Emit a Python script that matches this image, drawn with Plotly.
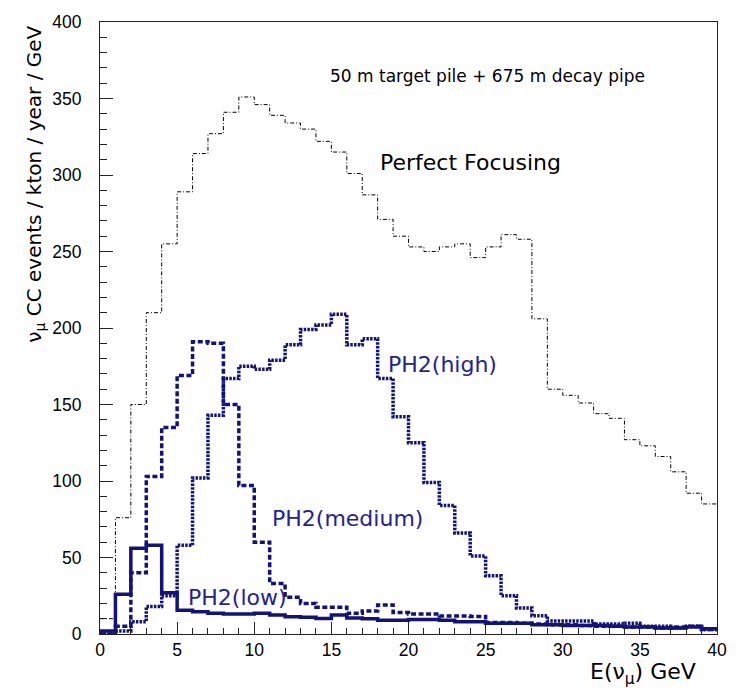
import plotly.graph_objects as go

# Bin edges (GeV), 1 GeV bins from 0 to 40
bin_edges = list(range(0, 41))

# nu_mu CC events / kton / year / GeV per bin
perfect_focusing = [10, 76, 150, 210, 255, 289, 314, 327, 341, 351,
                    346, 339, 334, 330, 322, 315, 301, 287, 271, 260,
                    253, 250, 253, 255, 246, 253, 261, 258, 206, 160,
                    156, 151, 144, 141, 127, 123, 116, 106, 92, 85]
ph2_high = [0, 2, 8, 18, 25, 58, 102, 143, 167, 175,
            173, 179, 189, 199, 202, 209, 189, 193, 167, 142,
            125, 99, 84, 66, 51, 38, 25, 17, 12, 8.5,
            8.5, 8.5, 6.5, 6.5, 7, 5, 5, 4, 5, 3]
ph2_medium = [0, 5, 40, 103, 135, 169, 191, 190, 150, 97,
              60, 33, 24, 20, 17.5, 17.5, 13.5, 15, 19, 14,
              13, 13, 11.7, 11.7, 11.5, 7.5, 7.5, 7, 6.5, 6,
              6, 5.5, 5, 5, 4.5, 4.5, 4, 4.5, 5, 3]
ph2_low = [2, 26, 56, 58, 27, 15.5, 14.5, 13.5, 13, 13,
           13.5, 12.5, 11.3, 11, 10.2, 12.5, 10.5, 10, 9, 9,
           9.5, 9.5, 9, 8, 8, 7, 7, 7, 6, 6,
           5.5, 5.5, 5.5, 5, 4.5, 4.5, 4, 4, 4.5, 3.5]

x_ticks = [0, 5, 10, 15, 20, 25, 30, 35, 40]
y_ticks = [0, 50, 100, 150, 200, 250, 300, 350, 400]

BLUE = "#12127e"
TEXT_BLUE = "#23238f"


def step_y(vals):
    return list(vals) + [vals[-1]]


fig = go.Figure()
fig.add_trace(go.Scatter(x=bin_edges, y=step_y(perfect_focusing), mode="lines",
                         line=dict(shape="hv", color="black", width=1,
                                   dash="4px,2px,1px,2px"),
                         name="Perfect Focusing"))
fig.add_trace(go.Scatter(x=bin_edges, y=step_y(ph2_high), mode="lines",
                         line=dict(shape="hv", color=BLUE, width=3.5,
                                   dash="2.5px,1.2px"),
                         name="PH2(high)"))
fig.add_trace(go.Scatter(x=bin_edges, y=step_y(ph2_medium), mode="lines",
                         line=dict(shape="hv", color=BLUE, width=3.5,
                                   dash="5px,2.5px"),
                         name="PH2(medium)"))
fig.add_trace(go.Scatter(x=bin_edges, y=step_y(ph2_low), mode="lines",
                         line=dict(shape="hv", color=BLUE, width=3.5),
                         name="PH2(low)"))

ann_font = "DejaVu Sans"
annotations = [
    dict(text="50 m target pile + 675 m decay pipe", x=25.1, y=365,
         xref="x", yref="y", xanchor="center", yanchor="middle",
         showarrow=False, font=dict(family=ann_font, size=17, color="black")),
    dict(text="Perfect Focusing", x=18.05, y=308,
         xref="x", yref="y", xanchor="left", yanchor="middle",
         showarrow=False, font=dict(family=ann_font, size=22, color="black")),
    dict(text="PH2(high)", x=18.55, y=176,
         xref="x", yref="y", xanchor="left", yanchor="middle",
         showarrow=False, font=dict(family=ann_font, size=22, color=TEXT_BLUE)),
    dict(text="PH2(medium)", x=11.0, y=75.5,
         xref="x", yref="y", xanchor="left", yanchor="middle",
         showarrow=False, font=dict(family=ann_font, size=22, color=TEXT_BLUE)),
    dict(text="PH2(low)", x=5.55, y=24,
         xref="x", yref="y", xanchor="left", yanchor="middle",
         showarrow=False, font=dict(family=ann_font, size=22, color=TEXT_BLUE)),
    dict(text="ν<sub>μ</sub> CC events / kton / year / GeV", x=-0.105, y=293.8,
         xref="paper", yref="y", xanchor="center", yanchor="middle",
         textangle=-90, showarrow=False,
         font=dict(family=ann_font, size=20, color="black")),
    dict(text="E(ν<sub>μ</sub>) GeV", x=38.77, y=-0.065,
         xref="x", yref="paper", xanchor="right", yanchor="middle",
         showarrow=False, font=dict(family=ann_font, size=22, color="black")),
]

fig.update_layout(
    width=740, height=690,
    margin=dict(l=100, r=23, t=18, b=56),
    paper_bgcolor="white", plot_bgcolor="white",
    showlegend=False,
    annotations=annotations,
    font=dict(family="Liberation Sans, Arial, sans-serif", size=17.5, color="black"),
)
fig.update_xaxes(range=[0, 40], tickvals=x_ticks, ticktext=[str(v) for v in x_ticks],
                 ticks="inside", ticklen=12, tickcolor="#222", tickwidth=1,
                 minor=dict(ticks="inside", ticklen=6, dtick=1, tickcolor="#222"),
                 showline=True, linecolor="#222", linewidth=1, mirror=True,
                 showgrid=False, zeroline=False,
                 tickfont=dict(family="Liberation Sans, Arial", size=17.5))
fig.update_yaxes(range=[0, 400], tickvals=y_ticks, ticktext=[str(v) for v in y_ticks],
                 ticks="inside", ticklen=13, tickcolor="#222", tickwidth=1,
                 minor=dict(ticks="inside", ticklen=7, dtick=10, tickcolor="#222"),
                 showline=True, linecolor="#222", linewidth=1, mirror=True,
                 showgrid=False, zeroline=False, ticklabelstandoff=14,
                 tickfont=dict(family="Liberation Sans, Arial", size=17.5))

fig.write_html("out.html")
